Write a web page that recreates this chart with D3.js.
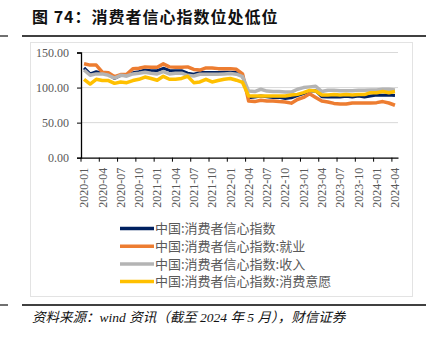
<!DOCTYPE html>
<html>
<head>
<meta charset="utf-8">
<script src="https://cdn.jsdelivr.net/npm/d3@7"></script>
<style>
  body { margin: 0; background: #fff; }
  svg { display: block; }
</style>
</head>
<body>
<div id="chart"></div>
<script>
// months 2020-01 .. 2024-04
var months = [];
for (var yr = 2020; yr <= 2024; yr++) {
    for (var m = 1; m <= 12; m++) {
        if (yr === 2024 && m > 4) break;
        months.push(yr + "-" + (m < 10 ? "0" + m : m));
    }
}

var seriesNames = ["中国:消费者信心指数", "中国:消费者信心指数:就业",
    "中国:消费者信心指数:收入", "中国:消费者信心指数:消费意愿"];

var consumerIndex = [128, 119.5, 122.5, 120.5, 119, 113, 117.5, 117, 121, 122.5, 125, 124,
    124, 127.5, 124.5, 124, 124, 120.5, 119, 121.5, 121.5, 121.5, 121.5, 122,
    122, 121.5, 117, 85.5, 86.5, 88, 87, 86, 86, 84.5, 85.5, 88.5,
    91.5, 95, 95.5, 87, 86.5, 86.5, 86.5, 87.5, 86.5, 88, 86.5, 88,
    89.3, 89, 89.3, 88.8];

var employment = [134, 132, 132, 122, 121, 115.5, 118.5, 119, 126.7, 127.5, 129.5, 129,
    129, 133.8, 129.5, 129, 129, 129.5, 125.8, 125, 128, 128, 127, 127,
    127, 126, 119.5, 80.7, 80, 82, 80.7, 80.7, 80, 79.5, 77.8, 83,
    86, 91.3, 86, 80.7, 79.5, 77.4, 76.5, 76.5, 78, 78, 78, 78,
    78.5, 80, 78, 74.8];

var income = [125, 117.5, 119.5, 119.5, 117.5, 113.6, 117.5, 116.5, 119.5, 120.5, 121.7, 120.5,
    119.5, 122.8, 119.5, 120.5, 120.5, 117.5, 116.5, 119, 119, 119, 119, 119.5,
    120, 119, 115.5, 95, 94.3, 97.6, 95, 94.3, 94.3, 93.6, 93.6, 97.6,
    100, 101, 101.9, 94.3, 96.2, 96.2, 95.5, 95.5, 95.5, 96.2, 96.2, 96.6,
    96.6, 97.6, 97.6, 96.6];

var willingness = [111.8, 105, 111.8, 110, 110, 106, 108, 107, 110, 111.8, 115, 113,
    110.5, 116, 111.8, 111.8, 113, 116, 107, 108, 111.8, 108, 110, 111.8,
    113, 110.5, 107.3, 88, 88, 88, 88, 88, 88, 88, 89.3, 90.3,
    92.7, 96, 95, 89.3, 89.3, 90, 89.3, 90, 89.3, 90, 90, 92.7,
    92.7, 94.3, 92.7, 94.3];

var yTicks = [0, 50, 100, 150];

var colors = ["#002060", "#ED7D31", "#B4B4B4", "#FFC000"];
var widths = [3, 3.5, 3.5, 3.5];

var W = 434, H = 339;
var svg = d3.select("#chart").append("svg")
    .attr("width", W).attr("height", H);

svg.append("rect").attr("width", W).attr("height", H).attr("fill", "#fff");

// title
svg.append("text")
    .attr("x", 32).attr("y", 23)
    .style("font-family", "'Noto Sans CJK SC', sans-serif")
    .style("font-weight", "bold")
    .style("font-size", "16px")
    .style("letter-spacing", "1px")
    .attr("fill", "#111")
    .text("图 74：消费者信心指数位处低位");

// rules above and below the chart box
svg.append("line").attr("x1", 22).attr("x2", 426).attr("y1", 36).attr("y2", 36)
    .attr("stroke", "#404040").attr("stroke-width", 2);
svg.append("line").attr("x1", 0).attr("x2", 8).attr("y1", 36).attr("y2", 36)
    .attr("stroke", "#404040").attr("stroke-width", 1.5);
svg.append("line").attr("x1", 22).attr("x2", 426).attr("y1", 305).attr("y2", 305)
    .attr("stroke", "#404040").attr("stroke-width", 2);
svg.append("line").attr("x1", 0).attr("x2", 8).attr("y1", 305).attr("y2", 305)
    .attr("stroke", "#404040").attr("stroke-width", 1.5);

// chart box
svg.append("rect").attr("x", 30.5).attr("y", 42.5).attr("width", 382).attr("height", 254)
    .attr("fill", "none").attr("stroke", "#E3E3E3").attr("stroke-width", 1);

// scales
var x = d3.scaleBand().domain(months).range([81, 398]).padding(0);
var y = d3.scaleLinear().domain([0, 150]).range([157.7, 52.5]);

// gridlines
svg.append("g").selectAll("line").data(yTicks.filter(function(d) { return d > 0; }))
    .enter().append("line")
    .attr("x1", 81).attr("x2", 398)
    .attr("y1", function(d) { return y(d); }).attr("y2", function(d) { return y(d); })
    .attr("stroke", "#D9D9D9").attr("stroke-width", 1);

// y axis
var yAxis = svg.append("g").attr("transform", "translate(81,0)")
    .call(d3.axisLeft(y).tickValues(yTicks).tickFormat(d3.format(".2f"))
        .tickSize(4).tickPadding(8));
yAxis.select(".domain").attr("stroke", "#000").attr("stroke-width", 1.3);
yAxis.selectAll(".tick line").attr("stroke", "#000");
yAxis.selectAll("text")
    .style("font-family", "'Liberation Serif', serif")
    .style("font-size", "12px").attr("fill", "#595959");

// x axis
var tickMonths = months.filter(function(d, i) { return i % 3 === 0; });
var half = x.bandwidth() / 2;
var xAxis = svg.append("g").attr("transform", "translate(0," + y(0) + ")")
    .call(d3.axisBottom(x).tickValues(tickMonths).tickSize(4).tickSizeOuter(0));
xAxis.select(".domain").attr("stroke", "#000").attr("stroke-width", 1.3);
xAxis.selectAll(".tick line").attr("stroke", "#000").attr("x1", -half).attr("x2", -half);
xAxis.selectAll("text")
    .attr("transform", "rotate(-90)")
    .attr("x", -10).attr("y", 0).attr("dy", "0.35em")
    .style("text-anchor", "end")
    .style("font-family", "'Liberation Serif', serif")
    .style("font-size", "12px").attr("fill", "#595959");

// lines
var allSeries = [consumerIndex, employment, income, willingness];
var line = d3.line()
    .x(function(d, i) { return x(months[i]) + half; })
    .y(function(d) { return y(d); });

svg.append("g").selectAll("path").data(allSeries).enter().append("path")
    .attr("d", function(d) { return line(d); })
    .attr("fill", "none")
    .attr("stroke", function(d, i) { return colors[i]; })
    .attr("stroke-width", function(d, i) { return widths[i]; })
    .attr("stroke-linejoin", "round");

// legend
var legend = svg.append("g").selectAll("g").data(seriesNames).enter().append("g")
    .attr("transform", function(d, i) { return "translate(120," + (228.5 + i * 17.7) + ")"; });
legend.append("line").attr("x1", 0).attr("x2", 34).attr("y1", 0).attr("y2", 0)
    .attr("stroke", function(d, i) { return colors[i]; })
    .attr("stroke-width", 3.5);
legend.append("text").attr("x", 35).attr("y", 0).attr("dy", "0.36em")
    .style("font-family", "'Noto Sans CJK SC', sans-serif")
    .style("font-size", "13px").attr("fill", "#595959")
    .text(function(d) { return d; });

// source
svg.append("text")
    .attr("x", 32).attr("y", 322)
    .style("font-family", "'Liberation Serif', 'Noto Sans CJK SC', serif")
    .style("font-style", "italic")
    .style("font-size", "13.5px")
    .attr("fill", "#111")
    .text("资料来源：wind 资讯（截至 2024 年 5 月），财信证券");
</script>
</body>
</html>
